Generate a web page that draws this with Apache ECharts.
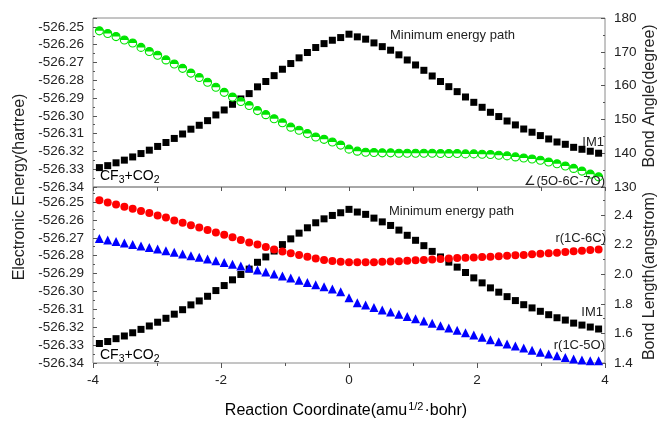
<!DOCTYPE html>
<html>
<head>
<meta charset="utf-8">
<script src="https://cdn.jsdelivr.net/npm/echarts@6/dist/echarts.min.js"></script>
<style>
html,body{margin:0;padding:0;background:#fff;}
#chart{width:659px;height:421px;}
</style>
</head>
<body>
<div id="chart"></div>
<script>
// Reaction coordinate (amu^1/2·bohr)
const reactionCoord = [-3.9, -3.77, -3.64, -3.51, -3.38, -3.25, -3.12, -2.99, -2.86, -2.73,
  -2.6, -2.47, -2.34, -2.21, -2.08, -1.95, -1.82, -1.69, -1.56, -1.43,
  -1.3, -1.17, -1.04, -0.91, -0.78, -0.65, -0.52, -0.39, -0.26, -0.13,
  0, 0.13, 0.26, 0.39, 0.52, 0.65, 0.78, 0.91, 1.04, 1.17,
  1.3, 1.43, 1.56, 1.69, 1.82, 1.95, 2.08, 2.21, 2.34, 2.47,
  2.6, 2.73, 2.86, 2.99, 3.12, 3.25, 3.38, 3.51, 3.64, 3.77, 3.9];

// Minimum energy path (hartree)
const energy = [-526.3291, -526.3280, -526.3264, -526.3249, -526.3231, -526.3212, -526.3193, -526.3172, -526.3150, -526.3127,
  -526.3102, -526.3075, -526.3053, -526.3027, -526.2995, -526.2967, -526.2935, -526.2905, -526.2875, -526.2837,
  -526.2807, -526.2774, -526.2738, -526.2706, -526.2674, -526.2644, -526.2616, -526.2594, -526.2575, -526.2560,
  -526.2541, -526.2556, -526.2569, -526.2590, -526.2611, -526.2631, -526.2657, -526.2686, -526.2714, -526.2744,
  -526.2776, -526.2807, -526.2836, -526.2864, -526.2894, -526.2924, -526.2952, -526.2980, -526.3004, -526.3029,
  -526.3051, -526.3074, -526.3092, -526.3111, -526.3130, -526.3147, -526.3160, -526.3177, -526.3188, -526.3199, -526.3210];

// Bond angle ∠(5O-6C-7O) (degree)
const bondAngle = [176.2, 175.4, 174.5, 173.5, 172.6, 171.3, 170.1, 169.0, 167.6, 166.4,
  165.1, 163.7, 162.4, 161.0, 159.5, 158.0, 156.6, 155.3, 154.1, 152.6,
  151.4, 150.2, 149.0, 147.7, 146.8, 145.8, 144.8, 144.1, 143.3, 142.4,
  141.2, 140.6, 140.3, 140.2, 140.1, 140.1, 140.0, 140.0, 140.0, 140.0,
  140.0, 139.9, 139.9, 139.9, 139.8, 139.8, 139.7, 139.6, 139.4, 139.2,
  138.9, 138.6, 138.3, 137.9, 137.4, 136.9, 136.2, 135.5, 134.7, 133.8, 133.0];

// Bond length r(1C-6C) (angstrom)
const r1C6C = [2.501, 2.486, 2.472, 2.456, 2.443, 2.427, 2.414, 2.398, 2.384, 2.364,
  2.348, 2.332, 2.317, 2.299, 2.283, 2.267, 2.251, 2.231, 2.215, 2.202,
  2.184, 2.168, 2.154, 2.142, 2.130, 2.118, 2.107, 2.097, 2.090, 2.085,
  2.082, 2.081, 2.081, 2.082, 2.084, 2.086, 2.088, 2.091, 2.094, 2.096,
  2.100, 2.103, 2.107, 2.110, 2.112, 2.114, 2.116, 2.119, 2.121, 2.125,
  2.128, 2.131, 2.135, 2.139, 2.142, 2.146, 2.150, 2.155, 2.159, 2.164, 2.168];

// Bond length r(1C-5O) (angstrom)
const r1C5O = [2.242, 2.232, 2.222, 2.212, 2.202, 2.191, 2.181, 2.170, 2.159, 2.148,
  2.137, 2.126, 2.115, 2.104, 2.092, 2.080, 2.068, 2.056, 2.043, 2.029,
  2.015, 2.001, 1.988, 1.974, 1.959, 1.945, 1.929, 1.916, 1.900, 1.882,
  1.841, 1.807, 1.792, 1.776, 1.758, 1.744, 1.729, 1.714, 1.699, 1.684,
  1.668, 1.652, 1.636, 1.621, 1.605, 1.589, 1.574, 1.558, 1.544, 1.528,
  1.515, 1.501, 1.486, 1.472, 1.461, 1.449, 1.438, 1.427, 1.420, 1.416, 1.416];

const FONT = '"Liberation Sans", Arial, sans-serif';
const GREEN = '#00e400';
const pairs = arr => reactionCoord.map((x, i) => [x, arr[i]]);

const chart = echarts.init(document.getElementById('chart'), null, {renderer: 'canvas'});

const labelStyle = {fontSize: 13.5, color: '#222', fontFamily: FONT};
const tickStyle = {color: '#555', width: 1};

function yAx(grid, pos, min, max, interval, digits, showMax) {
  return {
    type: 'value', gridIndex: grid, position: pos, min: min, max: max, interval: interval,
    axisLine: {show: false, onZero: false},
    axisTick: {show: true, inside: true, length: 4, lineStyle: tickStyle},
    minorTick: {show: true, splitNumber: 2, length: 2, lineStyle: tickStyle},
    axisLabel: Object.assign({margin: 9, showMaxLabel: showMax,
      formatter: v => Number(v).toFixed(digits)}, labelStyle),
    splitLine: {show: false}
  };
}

const option = {
  animation: false,
  backgroundColor: '#fff',
  grid: [
    {left: 93, right: 54, top: 18, height: 169, show: true, borderColor: '#8a8a8a', borderWidth: 1, containLabel: false},
    {left: 93, right: 54, top: 187, height: 176, show: true, borderColor: '#8a8a8a', borderWidth: 1, containLabel: false}
  ],
  xAxis: [
    {type: 'value', gridIndex: 0, min: -4, max: 4, interval: 1,
      axisLine: {show: false, onZero: false},
      axisTick: {show: true, inside: false, length: 4, lineStyle: tickStyle},
      axisLabel: {show: false}, splitLine: {show: false}},
    {type: 'value', gridIndex: 1, min: -4, max: 4, interval: 2,
      axisLine: {show: false, onZero: false},
      axisTick: {show: true, inside: false, length: 5, lineStyle: tickStyle},
      minorTick: {show: true, splitNumber: 2, length: 3, lineStyle: tickStyle},
      axisLabel: Object.assign({margin: 10}, labelStyle), splitLine: {show: false}}
  ],
  yAxis: [
    yAx(0, 'left', -526.34, -526.245, 0.01, 2, false),
    yAx(0, 'right', 130, 180, 10, 0, true),
    yAx(1, 'left', -526.34, -526.2416, 0.01, 2, false),
    yAx(1, 'right', 1.4, 2.59, 0.2, 1, false)
  ],
  series: [
    {name: 'Minimum energy path', type: 'scatter', xAxisIndex: 0, yAxisIndex: 0, data: pairs(energy),
      symbol: 'rect', symbolSize: 7, itemStyle: {color: '#000', opacity: 1}, silent: true},
    {name: '∠(5O-6C-7O)', type: 'scatter', xAxisIndex: 0, yAxisIndex: 1, data: pairs(bondAngle),
      symbol: 'circle', symbolSize: 8, itemStyle: {color: '#fff', borderColor: GREEN, borderWidth: 1.1, opacity: 1}, silent: true},
    {name: '∠(5O-6C-7O) fill', type: 'scatter', xAxisIndex: 0, yAxisIndex: 1, data: pairs(bondAngle),
      symbol: 'path://M0,10 A10,10 0 0 1 20,10 Z', symbolSize: [8, 4], symbolOffset: [0, -2],
      itemStyle: {color: GREEN, opacity: 1}, silent: true},
    {name: 'Minimum energy path ', type: 'scatter', xAxisIndex: 1, yAxisIndex: 2, data: pairs(energy),
      symbol: 'rect', symbolSize: 7, itemStyle: {color: '#000', opacity: 1}, silent: true},
    {name: 'r(1C-6C)', type: 'scatter', xAxisIndex: 1, yAxisIndex: 3, data: pairs(r1C6C),
      symbol: 'circle', symbolSize: 8, itemStyle: {color: '#ff0000', opacity: 1}, silent: true},
    {name: 'r(1C-5O)', type: 'scatter', xAxisIndex: 1, yAxisIndex: 3, data: pairs(r1C5O),
      symbol: 'triangle', symbolSize: 9, itemStyle: {color: '#0000ff', opacity: 1}, silent: true}
  ],
  graphic: [
    {type: 'text', x: 20, y: 187, rotation: Math.PI / 2, z: 100,
      style: {text: 'Electronic Energy(hartree)', font: '16px ' + FONT, fill: '#222', align: 'center', verticalAlign: 'middle'}},
    {type: 'text', x: 650, y: 96, rotation: Math.PI / 2, z: 100,
      style: {text: 'Bond Angle(degree)', font: '16px ' + FONT, fill: '#222', align: 'center', verticalAlign: 'middle'}},
    {type: 'text', x: 650, y: 276, rotation: Math.PI / 2, z: 100,
      style: {text: 'Bond Length(angstrom)', font: '16px ' + FONT, fill: '#222', align: 'center', verticalAlign: 'middle'}},
    {type: 'text', x: 346, y: 411, z: 100,
      style: {text: '{a|Reaction Coordinate(amu}{b|1/2}{a|·bohr)}', align: 'center', verticalAlign: 'middle',
        rich: {a: {fontSize: 16, fontFamily: FONT, color: '#222'},
               b: {fontSize: 11, fontFamily: FONT, color: '#222', padding: [0, 1, 9, 1]}}}},
    {type: 'text', x: 390, y: 35, z: 100,
      style: {text: 'Minimum energy path', font: '13px ' + FONT, fill: '#222', align: 'left', verticalAlign: 'middle'}},
    {type: 'text', x: 389, y: 211, z: 100,
      style: {text: 'Minimum energy path', font: '13px ' + FONT, fill: '#222', align: 'left', verticalAlign: 'middle'}},
    {type: 'text', x: 604, y: 142, z: 100,
      style: {text: 'IM1', font: '13px ' + FONT, fill: '#222', align: 'right', verticalAlign: 'middle'}},
    {type: 'text', x: 603, y: 312, z: 100,
      style: {text: 'IM1', font: '13px ' + FONT, fill: '#222', align: 'right', verticalAlign: 'middle'}},
    {type: 'text', x: 605, y: 181, z: 100,
      style: {text: '∠(5O-6C-7O)', font: '13px ' + FONT, fill: '#222', align: 'right', verticalAlign: 'middle'}},
    {type: 'text', x: 606, y: 238, z: 100,
      style: {text: 'r(1C-6C)', font: '13px ' + FONT, fill: '#222', align: 'right', verticalAlign: 'middle'}},
    {type: 'text', x: 605, y: 345, z: 100,
      style: {text: 'r(1C-5O)', font: '13px ' + FONT, fill: '#222', align: 'right', verticalAlign: 'middle'}},
    {type: 'text', x: 100, y: 176, z: 100,
      style: {text: '{a|CF}{s|3}{a|+CO}{s|2}', align: 'left', verticalAlign: 'middle',
        rich: {a: {fontSize: 14, fontFamily: FONT, color: '#222'},
               s: {fontSize: 10.5, fontFamily: FONT, color: '#222', padding: [8, 0, 0, 0]}}}},
    {type: 'text', x: 100, y: 355, z: 100,
      style: {text: '{a|CF}{s|3}{a|+CO}{s|2}', align: 'left', verticalAlign: 'middle',
        rich: {a: {fontSize: 14, fontFamily: FONT, color: '#222'},
               s: {fontSize: 10.5, fontFamily: FONT, color: '#222', padding: [8, 0, 0, 0]}}}}
  ]
};
chart.setOption(option);
</script>
</body>
</html>
